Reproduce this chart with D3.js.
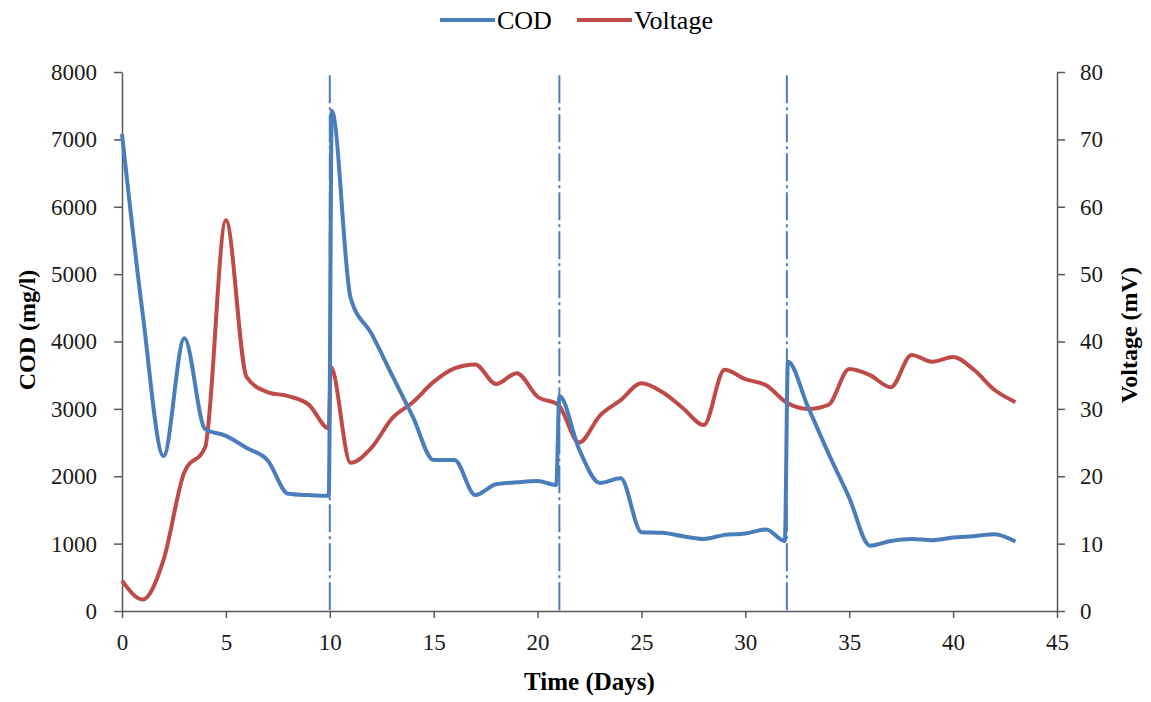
<!DOCTYPE html>
<meta charset="utf-8">
<script src="https://d3js.org/d3.v7.min.js"></script>
<style>
  body { margin: 0; background: #fff; }
  text { font-family: "Liberation Serif", "Times New Roman", serif; }
</style>
<div id="chart"></div>
<script>
  // COD (mg/l) readings
  var codDays = [0, 1, 2, 3, 4, 5, 6, 7, 8, 9, 9.95, 10.1, 11, 12, 13, 14, 15, 16, 17, 18, 19, 20, 20.9, 21.05,
                 22, 23, 24, 25, 26, 27, 28, 29, 30, 31, 31.9, 32.05, 33, 34, 35, 36, 37, 38, 39, 40, 41, 42, 43];
  var codValues = [7080, 4400, 2300, 4050, 2700, 2600, 2420, 2240, 1740, 1720, 1710, 7420, 4650, 4120, 3500, 2880, 2240, 2240, 1720, 1880, 1910, 1930, 1870, 3190,
                   2400, 1900, 1970, 1170, 1160, 1110, 1070, 1130, 1150, 1210, 1040, 3700, 3040, 2340, 1680, 970, 1040, 1070, 1050, 1090, 1110, 1140, 1030];

  // Voltage (mV) readings
  var voltDays = [0, 1, 2, 3, 4, 5, 6, 7, 8, 9, 9.95, 10.05, 11, 12, 13, 14, 15, 16, 17, 18, 19, 20, 21,
                  22, 23, 24, 25, 26, 27, 28, 29, 30, 31, 32, 33, 34, 35, 36, 37, 38, 39, 40, 41, 42, 43];
  var voltValues = [4.5, 1.7, 7.6, 20.6, 24.3, 58, 34.7, 32.5, 31.9, 30.6, 27.1, 36.2, 22, 24.2, 28.6, 31, 34, 36, 36.6, 33.7, 35.3, 31.8, 30.6,
                    25, 29, 31.3, 33.8, 32.5, 30.1, 27.6, 35.8, 34.4, 33.5, 30.9, 30, 30.6, 35.9, 35, 33.2, 38, 37, 37.7, 35.8, 32.8, 31];

  // feed (refill) days marked with dash-dot lines
  var feedDays = [10, 21.05, 32];

  var xTicks = [0, 5, 10, 15, 20, 25, 30, 35, 40, 45];
  var codTicks = [0, 1000, 2000, 3000, 4000, 5000, 6000, 7000, 8000];
  var voltTicks = [0, 10, 20, 30, 40, 50, 60, 70, 80];

  var W = 1151, H = 702;
  var margin = {top: 72, right: 94, bottom: 91, left: 122},
      width = W - margin.left - margin.right,
      height = H - margin.top - margin.bottom;

  var blue = "#4a7ebb", red = "#be4b48";
  var serif = "'Liberation Serif', 'Times New Roman', serif";

  var svg = d3.select("#chart").append("svg")
      .attr("width", W).attr("height", H);
  var g = svg.append("g")
      .attr("transform", "translate(" + margin.left + "," + margin.top + ")");

  var x = d3.scaleLinear().domain([0, 45]).range([0, width]);
  var yCod = d3.scaleLinear().domain([0, 8000]).range([height, 0]);
  var yVolt = d3.scaleLinear().domain([0, 80]).range([height, 0]);

  function styleAxis(sel) {
    sel.attr("font-family", serif).attr("font-size", 23);
    sel.select(".domain").attr("stroke", "#595959").attr("stroke-width", 1.5);
    sel.selectAll(".tick line").attr("stroke", "#595959").attr("stroke-width", 1.5);
    sel.selectAll("text").style("font-family", serif).style("font-size", "23px").attr("fill", "#1a1a1a");
  }

  g.append("g")
    .attr("transform", "translate(0," + height + ")")
    .call(d3.axisBottom(x).tickValues(xTicks).tickFormat(d3.format("d"))
      .tickSize(7).tickPadding(16).tickSizeOuter(0))
    .call(styleAxis);

  g.append("g")
    .call(d3.axisLeft(yCod).tickValues(codTicks).tickFormat(d3.format("d"))
      .tickSize(8).tickPadding(17).tickSizeOuter(0))
    .call(styleAxis);

  g.append("g")
    .attr("transform", "translate(" + width + ",0)")
    .call(d3.axisRight(yVolt).tickValues(voltTicks).tickFormat(d3.format("d"))
      .tickSize(8).tickPadding(15).tickSizeOuter(0))
    .call(styleAxis);

  // axis titles
  g.append("text")
    .attr("x", width / 2).attr("y", height + 79)
    .attr("text-anchor", "middle")
    .style("font-size", "25px").style("font-weight", "bold")
    .text("Time (Days)");

  g.append("text")
    .attr("transform", "rotate(-90)")
    .attr("x", -258).attr("y", -87)
    .attr("text-anchor", "middle")
    .style("font-size", "24px").style("font-weight", "bold")
    .text("COD (mg/l)");

  g.append("text")
    .attr("transform", "rotate(-90)")
    .attr("x", -263).attr("y", width + 80)
    .attr("text-anchor", "middle")
    .style("font-size", "24px").style("font-weight", "bold")
    .text("Voltage (mV)");

  // dash-dot markers
  g.selectAll("line.feed")
    .data(feedDays)
    .enter().append("line")
    .attr("class", "feed")
    .attr("x1", d => x(d)).attr("x2", d => x(d))
    .attr("y1", yCod(7950)).attr("y2", yCod(0))
    .attr("stroke", blue).attr("stroke-width", 2)
    .attr("stroke-dasharray", "28,4,3,4");

  var codData = codDays.map((d, i) => [d, codValues[i]]);
  var voltData = voltDays.map((d, i) => [d, voltValues[i]]);

  var curve = d3.curveMonotoneX;

  g.append("path")
    .datum(voltData)
    .attr("fill", "none")
    .attr("stroke", red).attr("stroke-width", 4)
    .attr("stroke-linejoin", "round")
    .attr("d", d3.line().curve(curve).x(d => x(d[0])).y(d => yVolt(d[1])));

  g.append("path")
    .datum(codData)
    .attr("fill", "none")
    .attr("stroke", blue).attr("stroke-width", 4)
    .attr("stroke-linejoin", "round")
    .attr("d", d3.line().curve(curve).x(d => x(d[0])).y(d => yCod(d[1])));

  // legend
  var legend = svg.append("g");
  var items = [{name: "COD", color: blue, x: 440}, {name: "Voltage", color: red, x: 577}];
  items.forEach(function(it) {
    legend.append("line")
      .attr("x1", it.x).attr("x2", it.x + 55)
      .attr("y1", 20).attr("y2", 20)
      .attr("stroke", it.color).attr("stroke-width", 4);
    legend.append("text")
      .attr("x", it.x + 57).attr("y", 29)
      .style("font-size", "26px")
      .text(it.name);
  });
</script>
